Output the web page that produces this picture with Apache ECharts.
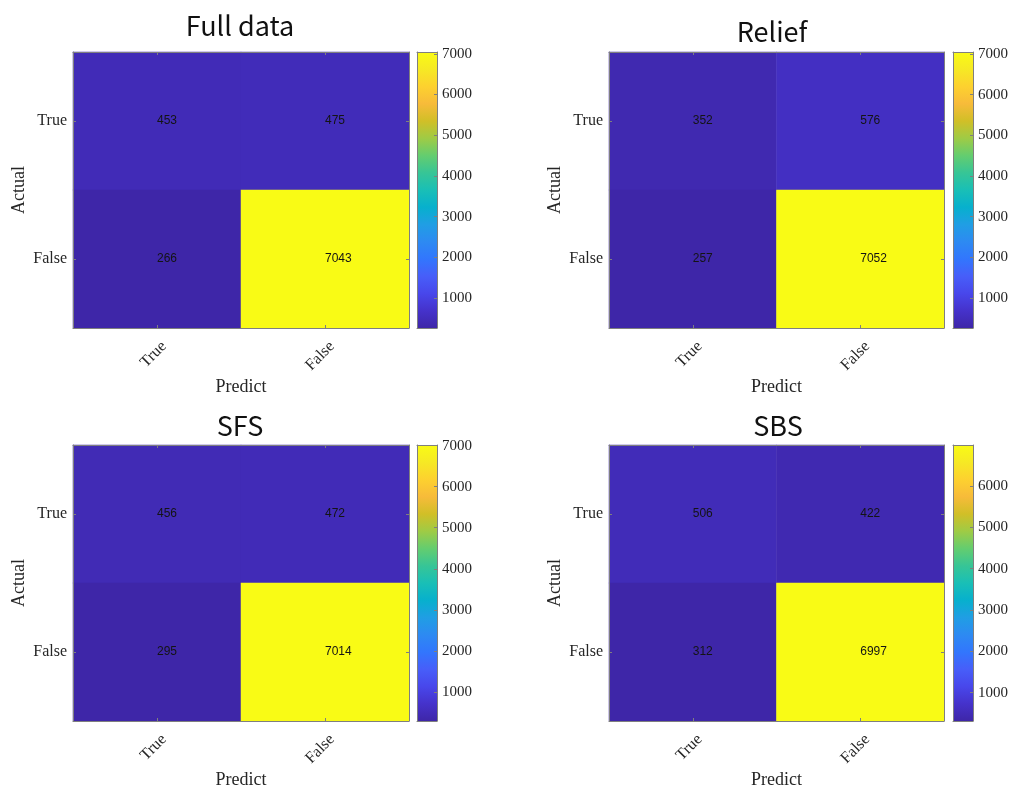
<!DOCTYPE html>
<html>
<head>
<meta charset="utf-8">
<title>Confusion matrices</title>
<script src="https://cdn.jsdelivr.net/npm/echarts@6/dist/echarts.min.js"></script>
<style>
  html, body { margin: 0; padding: 0; background: #ffffff; }
  #chart { width: 1011px; height: 787px; }
</style>
</head>
<body>
<div id="chart"></div>
<script>
// Class labels shared by both axes
const categories = ['True', 'False'];

// Confusion matrices: rows = Actual, columns = Predict
const fullData = [[453, 475], [266, 7043]];
const reliefData = [[352, 576], [257, 7052]];
const sfsData = [[456, 472], [295, 7014]];
const sbsData = [[506, 422], [312, 6997]];

const panelTitles = ['Full data', 'Relief', 'SFS', 'SBS'];

// Colorbar tick labels
const fullTicks = [1000, 2000, 3000, 4000, 5000, 6000, 7000];
const reliefTicks = [1000, 2000, 3000, 4000, 5000, 6000, 7000];
const sfsTicks = [1000, 2000, 3000, 4000, 5000, 6000, 7000];
const sbsTicks = [1000, 2000, 3000, 4000, 5000, 6000];

// parula colormap, sampled every 4th entry of the 64-step table
const parula = [
  '#3e26a8', '#4532cb', '#4847eb', '#475ef9', '#3276fd', '#2d8af2',
  '#209ee4', '#07b0cd', '#19bfb6', '#37c596', '#64cd6f', '#9fcb45',
  '#d1bf27', '#f7bb3a', '#fdd12f', '#f6e924', '#f9fb15'
];

const panels = [
  { title: panelTitles[0], data: fullData, ticks: fullTicks, left: 73, top: 52, w: 336, cbLeft: 417, titleX: 240, titleY: 25.5 },
  { title: panelTitles[1], data: reliefData, ticks: reliefTicks, left: 609, top: 52, w: 335, cbLeft: 953, titleX: 772, titleY: 31.5 },
  { title: panelTitles[2], data: sfsData, ticks: sfsTicks, left: 73, top: 445, w: 336, cbLeft: 417, titleX: 240, titleY: 425.5 },
  { title: panelTitles[3], data: sbsData, ticks: sbsTicks, left: 609, top: 445, w: 335, cbLeft: 953, titleX: 778, titleY: 425.5 }
];

const H = 276;
const CBW = 20;
const frame = '#7f7f7f';
const textColor = '#262626';
const serif = '"Liberation Serif", "Times New Roman", serif';
const sans = '"Liberation Sans", Arial, sans-serif';

// vertical parula gradient (bottom = low, top = high)
const gradientStops = parula.map((c, k) => ({ offset: k / (parula.length - 1), color: c }));

const grid = [], xAxis = [], yAxis = [], series = [], visualMap = [], graphic = [];

panels.forEach((p) => {
  const flat = p.data.flat();
  const vmin = Math.min(...flat);
  const vmax = Math.max(...flat);

  // matrix grid
  const g = grid.length;
  grid.push({ left: p.left, top: p.top, width: p.w, height: H, containLabel: false, outerBoundsMode: 'none' });
  // colorbar grid
  const gc = grid.length;
  grid.push({ left: p.cbLeft, top: p.top, width: CBW, height: H, containLabel: false, outerBoundsMode: 'none' });

  const frameLine = { show: true, onZero: false, lineStyle: { color: frame, width: 1 } };
  const innerTick = { show: true, inside: true, length: 3, alignWithLabel: true, lineStyle: { color: frame } };

  // matrix axes
  const xb = xAxis.length;
  xAxis.push({
    gridIndex: g, type: 'category', data: categories, position: 'bottom', z: 10,
    axisLine: frameLine, axisTick: innerTick,
    axisLabel: {
      rotate: 45, margin: 9, verticalAlign: 'top', lineHeight: 20,
      fontSize: 16, fontFamily: serif, color: textColor
    },
    name: 'Predict', nameLocation: 'middle', nameGap: 47,
    nameTextStyle: { fontSize: 18, fontFamily: serif, color: textColor },
    splitLine: { show: false }
  });
  xAxis.push({
    gridIndex: g, type: 'category', data: categories, position: 'top', z: 10,
    axisLine: frameLine, axisTick: innerTick, axisLabel: { show: false }, splitLine: { show: false }
  });
  const yl = yAxis.length;
  yAxis.push({
    gridIndex: g, type: 'category', data: categories, inverse: true, position: 'left', z: 10,
    axisLine: frameLine, axisTick: innerTick,
    axisLabel: { margin: 6, fontSize: 16, fontFamily: serif, color: textColor },
    name: 'Actual', nameLocation: 'middle', nameGap: 45,
    nameTextStyle: { fontSize: 18, fontFamily: serif, color: textColor },
    splitLine: { show: false }
  });
  yAxis.push({
    gridIndex: g, type: 'category', data: categories, inverse: true, position: 'right', z: 10,
    axisLine: frameLine, axisTick: innerTick, axisLabel: { show: false }, splitLine: { show: false }
  });

  // colorbar frame and tick axis
  const xc = xAxis.length;
  xAxis.push({
    gridIndex: gc, type: 'value', min: 0, max: 1, position: 'bottom', z: 10,
    axisLine: frameLine, axisTick: { show: false }, axisLabel: { show: false }, splitLine: { show: false }
  });
  xAxis.push({
    gridIndex: gc, type: 'value', min: 0, max: 1, position: 'top', z: 10,
    axisLine: frameLine, axisTick: { show: false }, axisLabel: { show: false }, splitLine: { show: false }
  });
  yAxis.push({
    gridIndex: gc, type: 'value', min: vmin, max: vmax, position: 'left', z: 10,
    axisLine: frameLine, axisTick: { show: false }, axisLabel: { show: false }, splitLine: { show: false }
  });
  const yc = yAxis.length;
  yAxis.push({
    gridIndex: gc, type: 'value', min: vmin, max: vmax, position: 'right', z: 10,
    axisLine: frameLine,
    axisTick: { show: true, inside: true, length: 3, customValues: p.ticks, lineStyle: { color: frame } },
    axisLabel: {
      customValues: p.ticks, margin: 5, fontSize: 15, fontFamily: serif, color: textColor,
      formatter: (v) => String(v)
    },
    splitLine: { show: false }
  });

  // heatmap cells
  const cells = [];
  p.data.forEach((row, r) => row.forEach((v, c) => cells.push([c, r, v])));
  const hs = series.length;
  series.push({
    type: 'heatmap', xAxisIndex: xb, yAxisIndex: yl, data: cells,
    label: {
      show: true, align: 'left', fontSize: 12, fontFamily: sans, color: '#141414',
      formatter: (d) => String(d.value[2])
    },
    emphasis: { disabled: true }
  });

  // colorbar strip spanning the value range
  series.push({
    type: 'custom', xAxisIndex: xc, yAxisIndex: yc, silent: true, z: 2,
    data: [[0, vmin, 1, vmax]],
    renderItem: (params, api) => {
      const a = api.coord([api.value(0), api.value(1)]);
      const b = api.coord([api.value(2), api.value(3)]);
      return {
        type: 'rect',
        shape: { x: a[0], y: b[1], width: b[0] - a[0], height: a[1] - b[1] },
        style: { fill: new echarts.graphic.LinearGradient(0, 1, 0, 0, gradientStops) }
      };
    }
  });

  visualMap.push({
    type: 'continuous', show: false, seriesIndex: hs, min: vmin, max: vmax, dimension: 2,
    inRange: { color: parula }
  });

  graphic.push({
    type: 'text', x: p.titleX, y: p.titleY, z: 20,
    style: {
      text: p.title, textAlign: 'center', textVerticalAlign: 'middle',
      font: '27px "Noto Sans CJK SC", "Noto Sans", sans-serif', fill: '#111111'
    }
  });
});

const chart = echarts.init(document.getElementById('chart'), null, { renderer: 'canvas' });
chart.setOption({
  backgroundColor: '#ffffff',
  animation: false,
  grid, xAxis, yAxis, series, visualMap, graphic
});
</script>
</body>
</html>
